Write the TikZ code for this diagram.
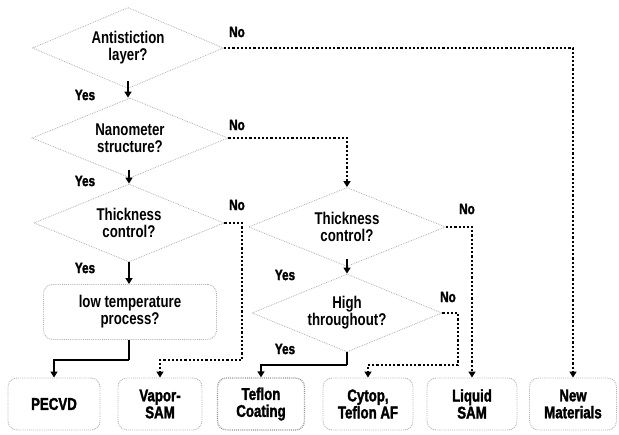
\documentclass[tikz,border=0pt]{standalone}
\usepackage{fontspec}
\setmainfont{Liberation Sans}[FakeStretch=0.78]
\newfontfamily\heavyfont{Liberation Sans}[FakeStretch=0.78, BoldFeatures={FakeBold=1.8}]
\usetikzlibrary{shapes.geometric,arrows.meta}
\begin{document}
\begin{tikzpicture}[x=1pt,y=-1pt,
  dia/.style={diamond, aspect=2.4, draw=gray!60, densely dotted, line width=0.8pt, inner sep=0pt, align=center,
    font=\fontsize{17}{17}\selectfont\bfseries},
  outbox/.style={rectangle, rounded corners=9pt, draw=gray!60, densely dotted, line width=0.9pt, align=center,
    minimum width=#1, minimum height=52pt, font=\heavyfont\fontsize{17}{17}\selectfont\bfseries},
  lab/.style={font=\heavyfont\fontsize{15}{15}\selectfont\bfseries},
  tip/.style={-{Triangle[width=7pt,length=6pt]}},
  yesline/.style={tip, line width=2pt},
  noline/.style={tip, line width=2.2pt, dash pattern=on 2.2pt off 2pt},
]
\useasboundingbox (0,0) rectangle (619,435);
% decision diamonds
\node[dia, minimum width=191pt, minimum height=81pt] (d1) at (128,48) {Antistiction\\layer?};
\node[dia, minimum width=196pt, minimum height=80pt] (d2) at (130,138) {Nanometer\\structure?};
\node[dia, minimum width=190pt, minimum height=78pt] (d3) at (129,223) {Thickness\\control?};
\node[dia, minimum width=197pt, minimum height=79pt] (d4) at (347,227) {Thickness\\control?};
\node[dia, minimum width=190pt, minimum height=78pt] (d5) at (347,313) {High\\throughout?};
% low temperature box
\node[outbox=173pt, minimum height=55pt, font=\fontsize{17}{17}\selectfont\bfseries] (low) at (130,312) {low temperature\\process?};
% outcome boxes
\node[outbox=92pt] (pecvd) at (54,404) {PECVD};
\node[outbox=84pt] (vapor) at (160,404) {Vapor-\\SAM};
\node[outbox=87pt, draw=gray!85, densely dotted, line width=1.3pt] (teflon) at (261,404) {Teflon\\Coating};
\node[outbox=90pt] (cytop) at (368,404) {Cytop,\\Teflon AF};
\node[outbox=90pt] (liquid) at (472,404) {Liquid\\SAM};
\node[outbox=87pt] (newm) at (573,404) {New\\Materials};
% junction coordinates
\coordinate (j3a) at (242,223);
\coordinate (j3b) at (242,360);
\coordinate (jlow) at (129,360);
\coordinate (j5a) at (458,313);
\coordinate (j5b) at (458,365);
\coordinate (j5y) at (347,365);
% Yes connectors
\draw[yesline] ([yshift=8pt]d1.south) -- (d1.south |- d2.north);
\draw[yesline] ([yshift=8pt]d2.south -| d3.north) -- (d3.north);
\draw[yesline] (d3.south) -- (d3.south |- low.north);
\draw[yesline] ([yshift=8pt]d4.south) -- (d5.north);
\draw[line width=2pt] (d3.south |- low.south) -- (jlow);
\draw[yesline] (jlow) -| (pecvd.north);
\draw[line width=2pt] (d5.south) -- (j5y);
\draw[yesline] (j5y) -| (teflon.north);
% No connectors
\draw[noline] (d1.east) -| (newm.north);
\draw[noline] (d2.east) -| (d4.north);
\draw[noline] (d3.east) -- (j3a) -- (j3b) -| (vapor.north);
\draw[noline] (d4.east) -| (liquid.north);
\draw[noline] (d5.east) -- (j5a) -- (j5b) -| (cytop.north);
% labels
\node[lab] (n1) at (237,32) {No};
\node[lab] (y1) at (85,95) {Yes};
\node[lab] (n2) at (237,125) {No};
\node[lab] (y2) at (85,181) {Yes};
\node[lab] (n3) at (237,205) {No};
\node[lab] (y3) at (85,268) {Yes};
\node[lab] (y4) at (285,275) {Yes};
\node[lab] (n4) at (467,209) {No};
\node[lab] (n5) at (448,297) {No};
\node[lab] (y5) at (285,349) {Yes};
\end{tikzpicture}
\end{document}
